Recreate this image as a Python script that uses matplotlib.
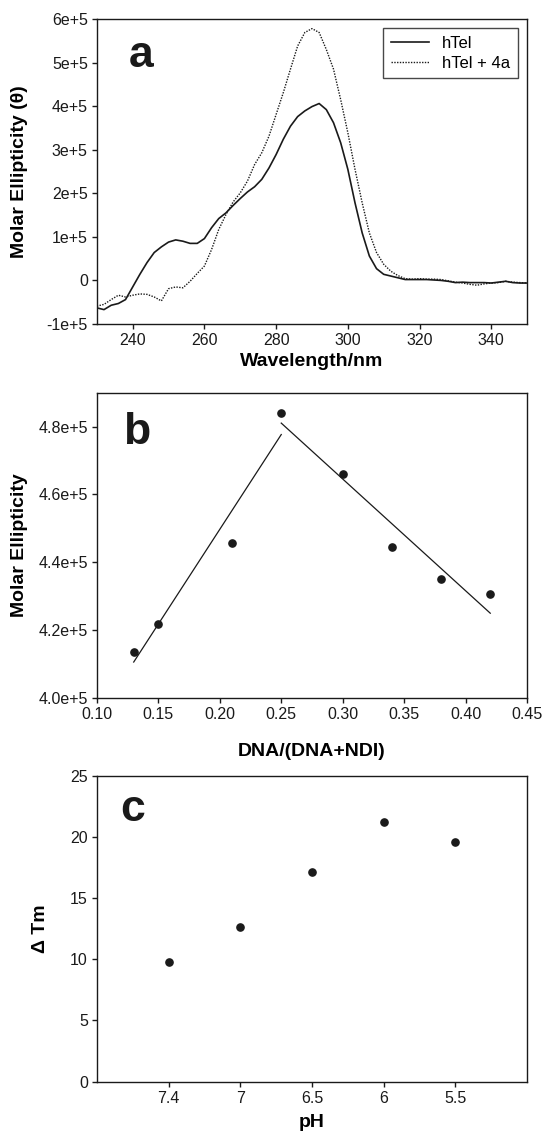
import numpy as np
import matplotlib
matplotlib.use('Agg')
import matplotlib.pyplot as plt
from matplotlib.ticker import FixedLocator, FuncFormatter

plt.rcParams['font.family'] = ['Liberation Sans', 'DejaVu Sans']

# panel a: CD spectra
wl = [230, 232, 234, 236, 238, 240, 242, 244, 246, 248, 250, 252, 254, 256, 258,
      260, 262, 264, 266, 268, 270, 272, 274, 276, 278, 280, 282, 284, 286, 288,
      290, 292, 294, 296, 298, 300, 302, 304, 306, 308, 310, 312, 314, 316, 318,
      320, 322, 324, 326, 328, 330, 332, 334, 336, 338, 340, 342, 344, 346, 348, 350]
htel = [-0.63, -0.67, -0.57, -0.53, -0.44, -0.15, 0.14, 0.41, 0.64, 0.77, 0.88,
        0.93, 0.90, 0.85, 0.85, 0.96, 1.21, 1.42, 1.55, 1.72, 1.88, 2.03, 2.15,
        2.32, 2.58, 2.89, 3.24, 3.54, 3.76, 3.89, 3.99, 4.06, 3.92, 3.62, 3.16,
        2.55, 1.78, 1.09, 0.56, 0.27, 0.14, 0.10, 0.06, 0.02, 0.02, 0.02, 0.02,
        0.01, 0.0, -0.02, -0.05, -0.04, -0.05, -0.05, -0.05, -0.06, -0.04, -0.02,
        -0.05, -0.06, -0.06]
htel_4a = [-0.59, -0.55, -0.44, -0.34, -0.38, -0.34, -0.31, -0.32, -0.38, -0.47,
           -0.19, -0.15, -0.17, -0.02, 0.16, 0.33, 0.71, 1.17, 1.51, 1.80, 2.01,
           2.28, 2.66, 2.93, 3.31, 3.81, 4.31, 4.85, 5.38, 5.69, 5.78, 5.69, 5.30,
           4.85, 4.15, 3.39, 2.55, 1.78, 1.09, 0.64, 0.37, 0.21, 0.11, 0.04, 0.03,
           0.04, 0.03, 0.03, 0.02, -0.01, -0.04, -0.06, -0.09, -0.11, -0.08, -0.06,
           -0.05, -0.02, -0.04, -0.05, -0.06]

# panel b: job plot
ratio = [0.13, 0.15, 0.21, 0.25, 0.30, 0.34, 0.38, 0.42]
ellip = [4.137e5, 4.219e5, 4.458e5, 4.840e5, 4.660e5, 4.445e5, 4.351e5, 4.306e5]

# panel c: delta Tm vs pH
ph_labels = ['7.4', '7', '6.5', '6', '5.5']
dtm = [9.8, 12.6, 17.1, 21.2, 19.6]

ink = '#1a1a1a'
tick_fs = 11.5
label_fs = 14

fig = plt.figure(figsize=(5.44, 11.38), dpi=100)
ax_a = fig.add_axes([0.178, 0.7153, 0.791, 0.268])
ax_b = fig.add_axes([0.178, 0.3866, 0.791, 0.2683])
ax_c = fig.add_axes([0.178, 0.0495, 0.791, 0.2689])

for ax in (ax_a, ax_b, ax_c):
    for s in ax.spines.values():
        s.set_linewidth(1.0)
        s.set_color(ink)
    ax.tick_params(direction='out', length=3.5, width=1.0, labelsize=tick_fs,
                   colors=ink, top=False, right=False, pad=3)

# ---- a
ax_a.plot(wl, np.array(htel) * 1e5, color=ink, lw=1.2, label='hTel')
ax_a.plot(wl, np.array(htel_4a) * 1e5, color=ink, lw=1.0, ls=(0, (1, 1)),
          label='hTel + 4a')
ax_a.set_xlim(230, 350)
ax_a.set_ylim(-1e5, 6e5)
ax_a.set_xticks(np.arange(240, 341, 20))
ax_a.yaxis.set_major_locator(FixedLocator(np.arange(-1e5, 6.01e5, 1e5)))
ax_a.yaxis.set_major_formatter(FuncFormatter(
    lambda v, p: '0' if abs(v) < 1 else '%de+5' % round(v / 1e5)))
ax_a.set_xlabel('Wavelength/nm', fontsize=label_fs, fontweight='bold')
ax_a.set_ylabel('Molar Ellipticity (θ)', fontsize=label_fs, fontweight='bold')
ax_a.xaxis.set_label_coords(0.5, -0.095)
ax_a.yaxis.set_label_coords(-0.16, 0.5)
leg = ax_a.legend(loc='upper right', fontsize=12, frameon=True, fancybox=False,
                  borderaxespad=0.55, handlelength=2.3, borderpad=0.45,
                  labelspacing=0.3, handletextpad=0.8)
leg.get_frame().set_edgecolor(ink)
leg.get_frame().set_linewidth(1.0)
ax_a.text(0.075, 0.88, 'a', transform=ax_a.transAxes, fontsize=32,
          fontweight='bold', ha='left', va='center', color=ink)

# ---- b
ax_b.plot(ratio, ellip, 'o', color=ink, ms=5.2)
k1 = np.polyfit(ratio[:4], ellip[:4], 1)
k2 = np.polyfit(ratio[3:], ellip[3:], 1)
xa = np.array([ratio[0], ratio[3]])
xb = np.array([ratio[3], ratio[-1]])
ax_b.plot(xa, np.polyval(k1, xa), color=ink, lw=0.9)
ax_b.plot(xb, np.polyval(k2, xb), color=ink, lw=0.9)
ax_b.set_xlim(0.10, 0.45)
ax_b.set_ylim(4.0e5, 4.9e5)
ax_b.set_xticks(np.arange(0.10, 0.451, 0.05))
ax_b.xaxis.set_major_formatter(FuncFormatter(lambda v, p: '%.2f' % v))
ax_b.yaxis.set_major_locator(FixedLocator(np.arange(4.0e5, 4.81e5, 0.2e5)))
ax_b.yaxis.set_major_formatter(FuncFormatter(lambda v, p: '%.1fe+5' % (v / 1e5)))
ax_b.set_xlabel('DNA/(DNA+NDI)', fontsize=label_fs, fontweight='bold')
ax_b.set_ylabel('Molar Ellipticity', fontsize=label_fs, fontweight='bold')
ax_b.xaxis.set_label_coords(0.5, -0.148)
ax_b.yaxis.set_label_coords(-0.16, 0.5)
ax_b.text(0.06, 0.87, 'b', transform=ax_b.transAxes, fontsize=32,
          fontweight='bold', ha='left', va='center', color=ink)

# ---- c
xpos = np.arange(1, len(ph_labels) + 1)
ax_c.plot(xpos, dtm, 'o', color=ink, ms=5.2)
ax_c.set_xlim(0, 6)
ax_c.set_ylim(0, 25)
ax_c.set_xticks(xpos)
ax_c.set_xticklabels(ph_labels)
ax_c.set_yticks(np.arange(0, 26, 5))
ax_c.set_xlabel('pH', fontsize=label_fs, fontweight='bold')
ax_c.set_ylabel('Δ Tm', fontsize=label_fs, fontweight='bold')
ax_c.xaxis.set_label_coords(0.5, -0.105)
ax_c.yaxis.set_label_coords(-0.11, 0.5)
ax_c.text(0.055, 0.89, 'c', transform=ax_c.transAxes, fontsize=32,
          fontweight='bold', ha='left', va='center', color=ink)

fig.savefig('out.png', dpi=100)
